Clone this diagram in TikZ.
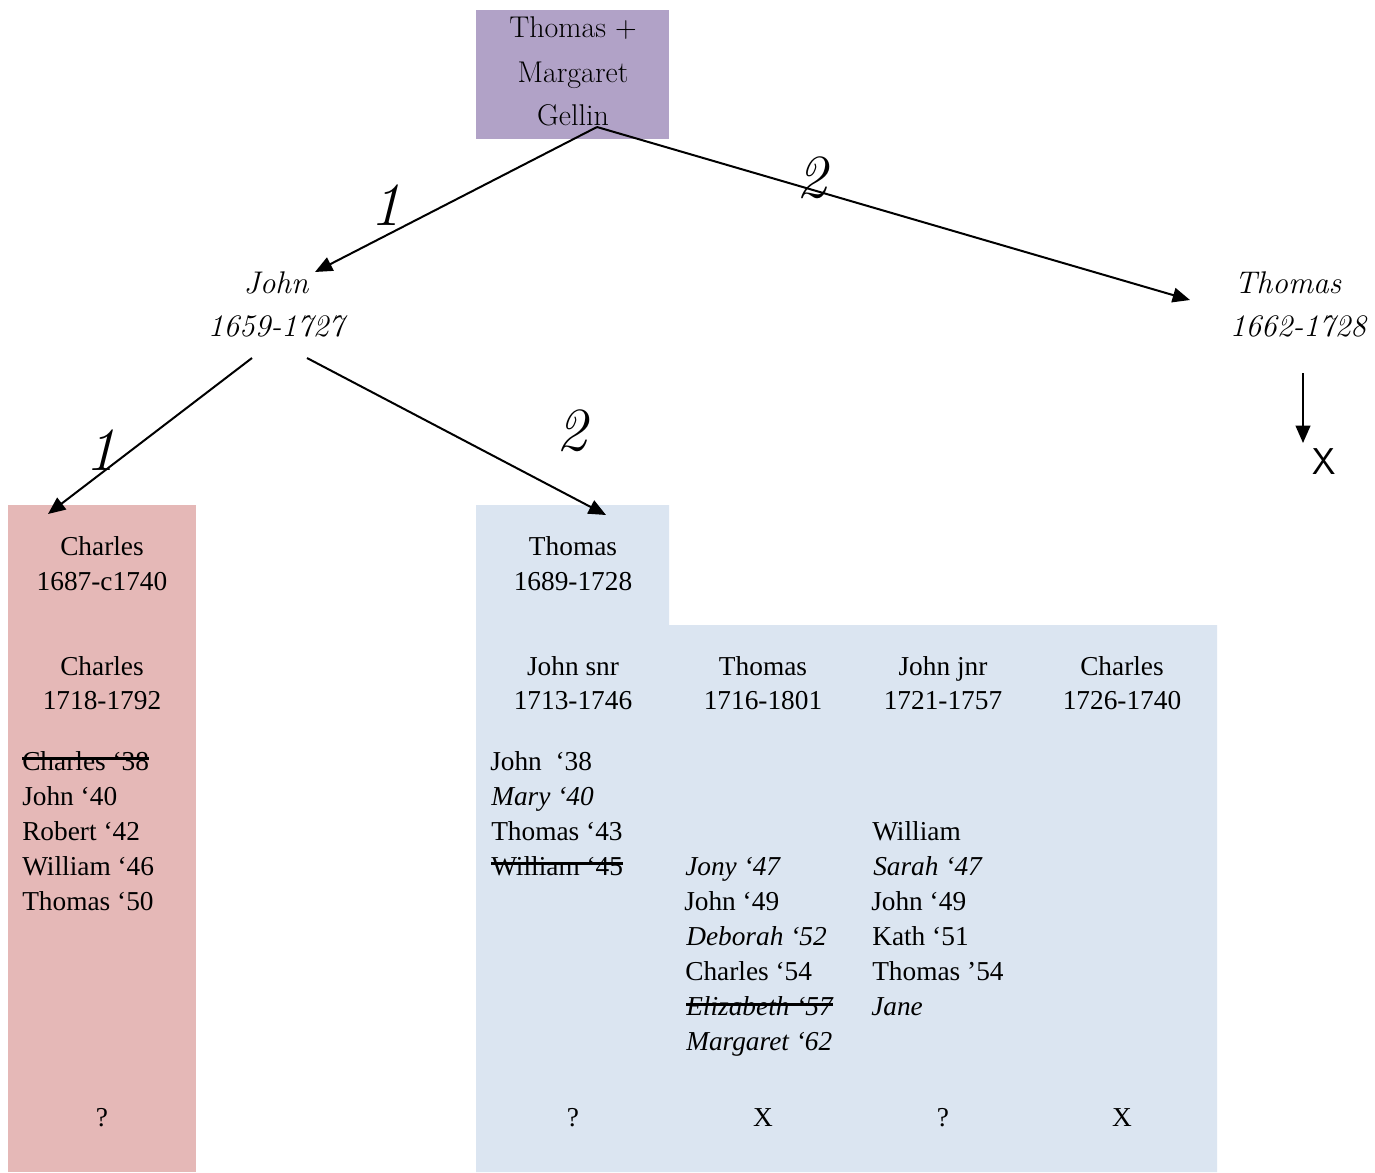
\documentclass[tikz,border=0pt]{standalone}
\usepackage{fontspec}
\newfontfamily\bodyfont{Liberation Serif}
\usetikzlibrary{arrows.meta}
\definecolor{purplebox}{RGB}{177,162,199}
\definecolor{pinkbox}{RGB}{229,184,183}
\definecolor{bluebox}{RGB}{219,229,241}
\tikzset{
  body/.style={font=\bodyfont\fontsize{20.5}{25}\selectfont, inner sep=0pt, anchor=base west},
  ibody/.style={font=\bodyfont\itshape\fontsize{20.5}{25}\selectfont, inner sep=0pt, anchor=base west},
  head/.style={font=\bodyfont\fontsize{20.5}{25}\selectfont, inner sep=0pt, anchor=base},
  roottext/.style={font=\fontsize{22.5}{26}\selectfont, inner sep=0pt, anchor=base},
  person/.style={font=\itshape\fontsize{23.5}{28}\selectfont, inner sep=0pt, anchor=base},
  numlbl/.style={font=\itshape\fontsize{46}{46}\selectfont, inner sep=0pt, anchor=base},
  strikeline/.style={line width=2.4pt},
  arr/.style={line width=1.5pt, -{Triangle[length=13pt,width=11pt]}},
}
\begin{document}
\begin{tikzpicture}[x=0.75pt,y=-0.75pt]
\useasboundingbox (0,0) rectangle (1375,1172);
\fill[white] (0,0) rectangle (1375,1172);
% background shapes
\fill[purplebox] (476,10) rectangle (669,139);
\fill[pinkbox] (8,505) rectangle (196,1172);
\fill[bluebox] (476,505) -- (669,505) -- (669,625) -- (1217,625) -- (1217,1172) -- (476,1172) -- cycle;

% root
\node[roottext] (r1) at (573,37) {Thomas +};
\node[roottext] (r2) at (573,82) {Margaret};
\node[roottext] (r3) at (573,125) {Gellin};

% generation 2
\node[person] (john) at (276,293) {John};
\node[person] (johny) at (276,336) {1659-1727};
\node[person] (thom) at (1288,293) {Thomas};
\node[person] (thomy) at (1298,336) {1662-1728};
\node[font=\sffamily\fontsize{28}{30}\selectfont, inner sep=0pt, anchor=base] (thx) at (1324,474) {X};

% connector points
\coordinate (rootout) at (597,127);
\coordinate (johnin) at (315,272);
\coordinate (thomin) at (1190,300);
\coordinate (johnoutA) at (252,358);
\coordinate (johnoutB) at (307,358);
\coordinate (charin) at (48,514);
\coordinate (thomsin) at (606,515);
\coordinate (thomout) at (1303,373);
\coordinate (xin) at (1303,443);

\draw[arr] (rootout) -- (johnin);
\draw[arr] (rootout) -- (thomin);
\draw[arr] (johnoutA) -- (charin);
\draw[arr] (johnoutB) -- (thomsin);
\draw[arr] (thomout) -- (xin);

\node[numlbl] (n1) at (386,225) {1};
\node[numlbl] (n2) at (812,197) {2};
\node[numlbl] (n3) at (101,470) {1};
\node[numlbl] (n4) at (572,450) {2};

% pink column
\node[head] (ch1) at (102,555) {Charles};
\node[head] (ch1y) at (102,590) {1687-c1740};
\node[head] (ch2) at (102,675) {Charles};
\node[head] (ch2y) at (102,709) {1718-1792};
\node[body] (p1) at (22,770) {Charles ‘38};
\draw[strikeline] ([yshift=8.5pt]p1.base west) -- ([yshift=8.5pt]p1.base east);
\node[body] (p2) at (22,805) {John ‘40};
\node[body] (p3) at (22,840) {Robert ‘42};
\node[body] (p4) at (22,875) {William ‘46};
\node[body] (p5) at (22,910) {Thomas ‘50};
\node[head] (pq) at (102,1126) {?};

% blue area
\node[head] (th1) at (573,555) {Thomas};
\node[head] (th1y) at (573,590) {1689-1728};
\node[head] (k1) at (573,675) {John snr};
\node[head] (k1y) at (573,709) {1713-1746};
\node[head] (k2) at (763,675) {Thomas};
\node[head] (k2y) at (763,709) {1716-1801};
\node[head] (k3) at (943,675) {John jnr};
\node[head] (k3y) at (943,709) {1721-1757};
\node[head] (k4) at (1122,675) {Charles};
\node[head] (k4y) at (1122,709) {1726-1740};

\node[body] (a1) at (490,770) {John\ \ ‘38};
\node[ibody] (a2) at (491,805) {Mary ‘40};
\node[body] (a3) at (491,840) {Thomas ‘43};
\node[body] (a4) at (491,875) {William ‘45};
\draw[strikeline] ([yshift=8.5pt]a4.base west) -- ([yshift=8.5pt]a4.base east);

\node[ibody] (b1) at (685,875) {Jony ‘47};
\node[body] (b2) at (684,910) {John ‘49};
\node[ibody] (b3) at (686,945) {Deborah ‘52};
\node[body] (b4) at (685,980) {Charles ‘54};
\node[ibody] (b5) at (686,1015) {Elizabeth ‘57};
\draw[strikeline] ([yshift=8pt]b5.base west) -- ([yshift=8pt]b5.base east);
\node[ibody] (b6) at (686,1050) {Margaret ‘62};

\node[body] (c1) at (872,840) {William};
\node[ibody] (c2) at (873,875) {Sarah ‘47};
\node[body] (c3) at (871,910) {John ‘49};
\node[body] (c4) at (872,945) {Kath ‘51};
\node[body] (c5) at (872,980) {Thomas ’54};
\node[ibody] (c6) at (871,1015) {Jane};

\node[head] (q1) at (573,1126) {?};
\node[head] (q2) at (763,1126) {X};
\node[head] (q3) at (943,1126) {?};
\node[head] (q4) at (1122,1126) {X};
\end{tikzpicture}
\end{document}
